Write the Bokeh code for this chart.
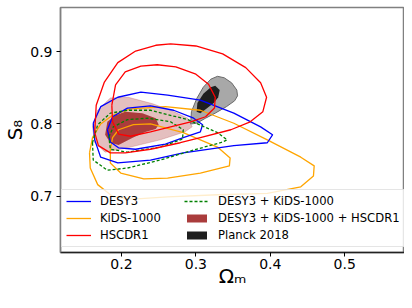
from bokeh.plotting import figure
from bokeh.models import Legend, LegendItem, Range1d, FixedTicker
from bokeh.embed import file_html
from bokeh.resources import INLINE

# ---- data (Omega_m, S8) contour outlines ----
x_ticks = [0.2, 0.3, 0.4, 0.5]
y_ticks = [0.7, 0.8, 0.9]

hsc_om_2s = [0.164, 0.166, 0.177, 0.195, 0.219, 0.246, 0.266, 0.300, 0.336, 0.367, 0.387, 0.395, 0.390, 0.373, 0.347, 0.306, 0.279, 0.239, 0.205, 0.185, 0.169]
hsc_s8_2s = [0.788, 0.826, 0.858, 0.885, 0.901, 0.909, 0.911, 0.908, 0.897, 0.878, 0.857, 0.837, 0.817, 0.803, 0.792, 0.781, 0.774, 0.765, 0.760, 0.760, 0.770]
hsc_om_1s = [0.187, 0.192, 0.205, 0.226, 0.248, 0.273, 0.300, 0.317, 0.326, 0.325, 0.313, 0.293, 0.266, 0.239, 0.212, 0.196, 0.188]
hsc_s8_1s = [0.826, 0.854, 0.872, 0.880, 0.882, 0.879, 0.869, 0.855, 0.837, 0.822, 0.810, 0.803, 0.796, 0.789, 0.783, 0.786, 0.803]

des_om_2s = [0.162, 0.164, 0.172, 0.195, 0.239, 0.283, 0.351, 0.396, 0.403, 0.387, 0.351, 0.306, 0.262, 0.226, 0.195, 0.172]
des_s8_2s = [0.801, 0.778, 0.754, 0.746, 0.750, 0.760, 0.770, 0.774, 0.785, 0.796, 0.815, 0.833, 0.840, 0.844, 0.837, 0.824]
des_om_1s = [0.181, 0.188, 0.208, 0.239, 0.270, 0.297, 0.309, 0.306, 0.283, 0.259, 0.219, 0.196, 0.185]
des_s8_1s = [0.792, 0.810, 0.822, 0.825, 0.819, 0.808, 0.799, 0.789, 0.781, 0.772, 0.765, 0.767, 0.775]

kids_om_2s = [0.157, 0.161, 0.172, 0.188, 0.212, 0.259, 0.306, 0.351, 0.396, 0.441, 0.459, 0.458, 0.441, 0.396, 0.329, 0.262, 0.216, 0.189, 0.168, 0.158]
kids_s8_2s = [0.760, 0.781, 0.800, 0.812, 0.821, 0.824, 0.819, 0.801, 0.778, 0.754, 0.742, 0.728, 0.713, 0.704, 0.702, 0.699, 0.696, 0.699, 0.716, 0.739]
kids_om_1s = [0.185, 0.188, 0.196, 0.216, 0.239, 0.283, 0.329, 0.346, 0.345, 0.306, 0.262, 0.230, 0.199, 0.185]
kids_s8_1s = [0.764, 0.781, 0.792, 0.799, 0.800, 0.788, 0.768, 0.753, 0.742, 0.732, 0.725, 0.724, 0.732, 0.746]

dk_om_2s = [0.161, 0.162, 0.181, 0.208, 0.252, 0.297, 0.333, 0.342, 0.329, 0.289, 0.239, 0.208, 0.185, 0.168]
dk_s8_2s = [0.774, 0.750, 0.736, 0.739, 0.750, 0.764, 0.774, 0.778, 0.788, 0.806, 0.819, 0.819, 0.815, 0.799]
dk_om_1s = [0.183, 0.189, 0.208, 0.235, 0.266, 0.283, 0.282, 0.252, 0.208, 0.185]
dk_s8_1s = [0.782, 0.796, 0.806, 0.808, 0.803, 0.792, 0.779, 0.768, 0.761, 0.765]

all_om_2s = [0.161, 0.168, 0.185, 0.209, 0.242, 0.266, 0.289, 0.295, 0.285, 0.252, 0.208, 0.178, 0.164]
all_s8_2s = [0.796, 0.819, 0.836, 0.837, 0.828, 0.819, 0.808, 0.796, 0.789, 0.778, 0.767, 0.761, 0.774]
all_om_1s = [0.178, 0.181, 0.192, 0.205, 0.228, 0.246, 0.250, 0.246, 0.232, 0.215, 0.196, 0.185]
all_s8_1s = [0.785, 0.803, 0.812, 0.817, 0.815, 0.808, 0.799, 0.793, 0.789, 0.781, 0.771, 0.774]

planck_om_2s = [0.293, 0.294, 0.301, 0.310, 0.320, 0.329, 0.338, 0.348, 0.355, 0.356, 0.352, 0.341, 0.326, 0.313, 0.301]
planck_s8_2s = [0.800, 0.817, 0.835, 0.851, 0.862, 0.866, 0.864, 0.857, 0.847, 0.839, 0.832, 0.824, 0.815, 0.808, 0.801]
planck_om_1s = [0.301, 0.302, 0.310, 0.320, 0.326, 0.332, 0.330, 0.324, 0.314, 0.306]
planck_s8_1s = [0.817, 0.829, 0.842, 0.851, 0.853, 0.847, 0.837, 0.829, 0.821, 0.815]


def closed(a):
    return list(a) + [a[0]]


p = figure(width=404, height=292, output_backend="svg", toolbar_location=None,
           x_range=Range1d(0.118, 0.5804), y_range=Range1d(0.622, 0.9613),
           min_border_left=60, min_border_right=0, min_border_top=7, min_border_bottom=40,
           background_fill_color="white", border_fill_color="white")
p.grid.visible = False
p.outline_line_color = "#808080"
p.outline_line_width = 1.5

# filled contours
p.patch(all_om_2s, all_s8_2s, fill_color="#a52a2a", fill_alpha=0.3, line_color="#a52a2a", line_alpha=0.3, line_width=0.8)
r_all = p.patch(all_om_1s, all_s8_1s, fill_color="#aa3c3c", fill_alpha=1.0, line_color=None)
p.patch(planck_om_2s, planck_s8_2s, fill_color="#a8a8a8", fill_alpha=1.0, line_color="#6a6a6a", line_width=1)
r_planck = p.patch(planck_om_1s, planck_s8_1s, fill_color="#1e1e1e", fill_alpha=1.0, line_color=None)

lw = 1.3
r_kids = p.line(closed(kids_om_2s), closed(kids_s8_2s), line_color="#ffa500", line_width=lw, line_join="round")
p.line(closed(kids_om_1s), closed(kids_s8_1s), line_color="#ffa500", line_width=lw, line_join="round")
r_des = p.line(closed(des_om_2s), closed(des_s8_2s), line_color="#0000ff", line_width=lw, line_join="round")
p.line(closed(des_om_1s), closed(des_s8_1s), line_color="#0000ff", line_width=lw, line_join="round")
r_dk = p.line(closed(dk_om_2s), closed(dk_s8_2s), line_color="#008000", line_width=lw, line_dash="3 2", line_join="round")
p.line(closed(dk_om_1s), closed(dk_s8_1s), line_color="#008000", line_width=lw, line_dash="3 2", line_join="round")
r_hsc = p.line(closed(hsc_om_2s), closed(hsc_s8_2s), line_color="#ff0000", line_width=lw, line_join="round")
p.line(closed(hsc_om_1s), closed(hsc_s8_1s), line_color="#ff0000", line_width=lw, line_join="round")

# axes
for ax in (p.xaxis[0], p.yaxis[0]):
    ax.major_label_text_font = "DejaVu Sans"
    ax.major_label_text_font_size = "14px"
    ax.major_label_text_color = "black"
    ax.axis_label_text_font = "DejaVu Sans"
    ax.axis_label_text_font_size = "20px"
    ax.axis_label_text_font_style = "normal"
    ax.axis_label_text_color = "black"
    ax.major_tick_in = 0
    ax.major_tick_out = 4
    ax.minor_tick_line_color = None
p.xaxis.major_label_standoff = 2
p.yaxis.major_label_standoff = 4
p.xaxis.axis_label_standoff = -8
p.yaxis.axis_label_standoff = 0
p.xaxis.ticker = FixedTicker(ticks=x_ticks)
p.yaxis.ticker = FixedTicker(ticks=y_ticks)
p.xaxis.axis_label = "Ωₘ"
p.yaxis.axis_label = "S₈"
p.xaxis.axis_line_color = "#222222"
p.yaxis.axis_line_color = "#808080"
p.yaxis.axis_line_width = 1.5
p.xaxis.axis_line_width = 1.5

legend = Legend(items=[
    LegendItem(label="DESY3", renderers=[r_des]),
    LegendItem(label="KiDS-1000", renderers=[r_kids]),
    LegendItem(label="HSCDR1", renderers=[r_hsc]),
    LegendItem(label="DESY3 + KiDS-1000", renderers=[r_dk]),
    LegendItem(label="DESY3 + KiDS-1000 + HSCDR1", renderers=[r_all]),
    LegendItem(label="Planck 2018", renderers=[r_planck]),
], location=(1, 5), orientation="vertical", nrows=3)
legend.label_text_font = "DejaVu Sans"
legend.label_text_font_size = "11.6px"
legend.label_text_color = "black"
legend.glyph_width = 25
legend.glyph_height = 10
legend.label_height = 14
legend.label_standoff = 9
legend.label_width = 81
legend.spacing = 3
legend.padding = 4
legend.margin = 0
legend.border_line_color = "#cccccc"
legend.border_line_width = 1
legend.background_fill_color = "white"
legend.background_fill_alpha = 0.8
p.add_layout(legend)

open("out.html", "w").write(file_html(p, INLINE))
